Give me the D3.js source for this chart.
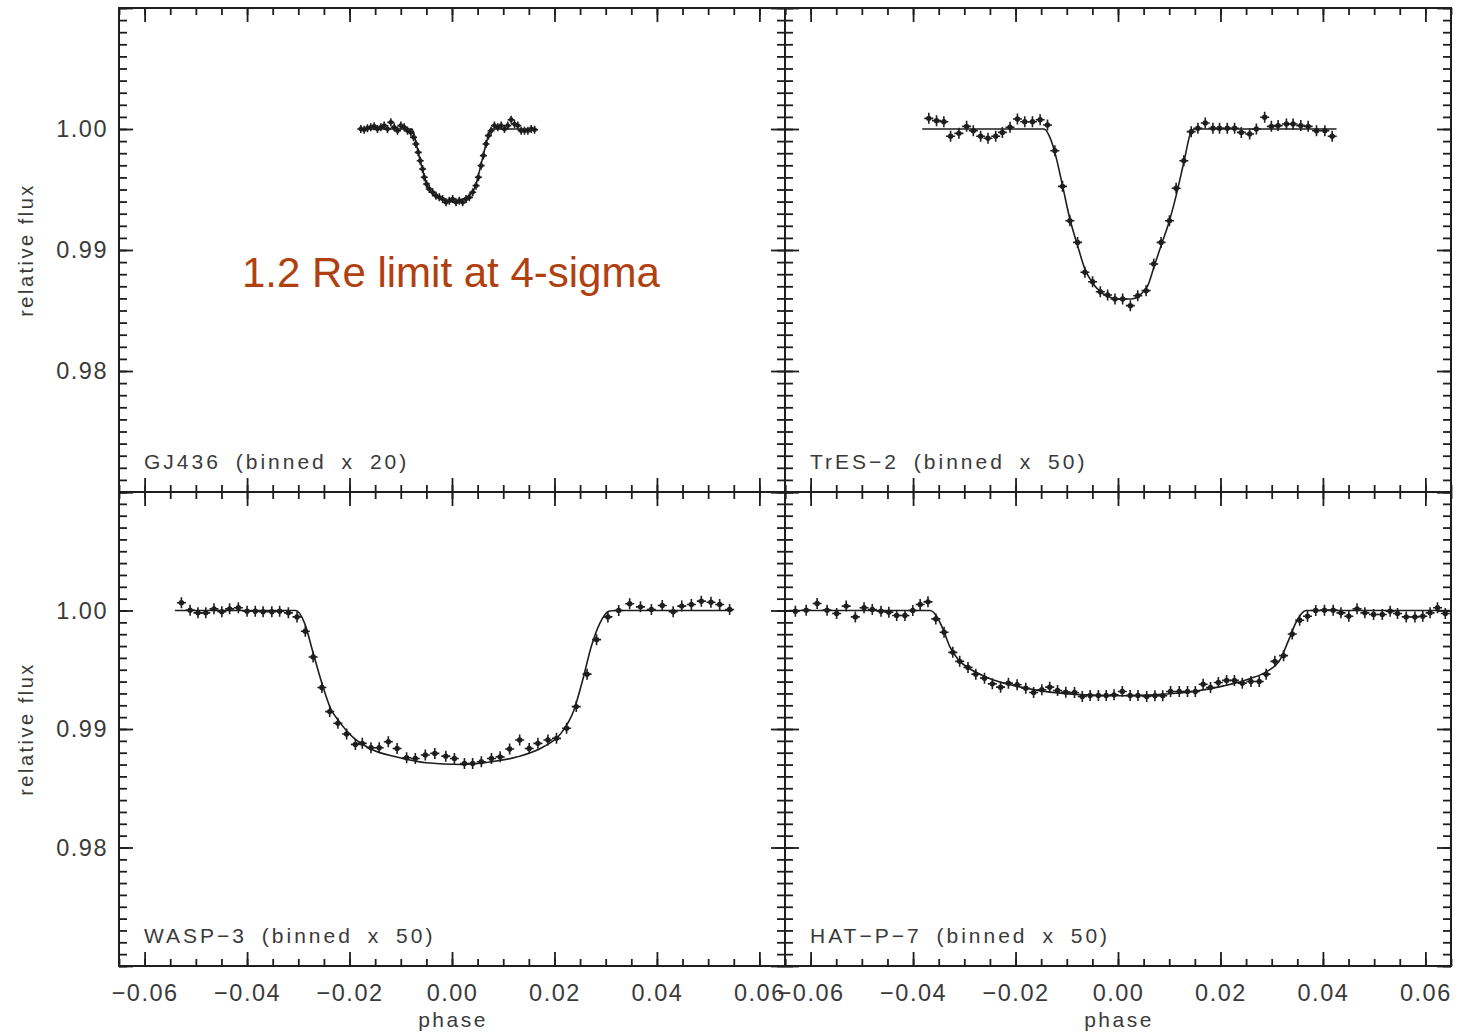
<!DOCTYPE html>
<html>
<head>
<meta charset="utf-8">
<script src="https://cdn.jsdelivr.net/npm/d3@7"></script>
<style>
  body { margin: 0; background: #fff; }
  svg { display: block; }
  text { font-family: "Liberation Sans", Arial, Helvetica, sans-serif; }
</style>
</head>
<body>
<div id="area"></div>
<script>
// tick values
const xMajor = [-0.06, -0.04, -0.02, 0.00, 0.02, 0.04, 0.06]
const yMajor = [0.97, 0.98, 0.99, 1.00, 1.01]
const yLabelled = [0.98, 0.99, 1.00]
const phaseDomain = [-0.065, 0.065]
const fluxDomain = [0.97, 1.01]

// GJ436 (binned x 20)
const gjPhase = [-0.0178, -0.01715, -0.0165, -0.01585, -0.0152, -0.01455, -0.01389, -0.01324, -0.01259, -0.01194,
    -0.01129, -0.01063, -0.00998, -0.00933, -0.00868, -0.00802, -0.0075, -0.00705, -0.00659, -0.0062,
    -0.00574, -0.00541, -0.00496, -0.00444, -0.00378, -0.00313, -0.00248, -0.00183, -0.00117, -0.00052,
    0.00013, 0.00078, 0.00143, 0.00209, 0.00274, 0.00339, 0.00404, 0.0047, 0.00515, 0.00568,
    0.00613, 0.00665, 0.00711, 0.00763, 0.00828, 0.00894, 0.00959, 0.01024, 0.01089, 0.01155,
    0.0122, 0.01285, 0.0135, 0.01415, 0.01481, 0.01546, 0.01611]
const gjFlux = [1.0, 0.99994, 1.00006, 1.00014, 1.00022, 1.0, 1.00014, 1.00028, 1.0, 1.00055,
    1.00014, 0.99986, 1.00028, 1.00014, 0.99986, 0.99972, 0.99931, 0.99876, 0.99807, 0.99738,
    0.99669, 0.99601, 0.99545, 0.99504, 0.99477, 0.99449, 0.99435, 0.99421, 0.99394, 0.99408,
    0.99421, 0.99394, 0.99408, 0.99394, 0.99421, 0.99435, 0.99477, 0.99532, 0.99601, 0.99697,
    0.9978, 0.99876, 0.99945, 0.99986, 1.00028, 1.00014, 1.00028, 1.0, 1.00028, 1.00077,
    1.00041, 1.00028, 0.99986, 0.99986, 0.99986, 1.0, 0.99994]
const gjModelPhase = [-0.0180, -0.0078, -0.0070, -0.0062, -0.0054, -0.0046, -0.0036, -0.0020, 0.0000,
    0.0020, 0.0036, 0.0046, 0.0054, 0.0062, 0.0070, 0.0078, 0.0165]
const gjModelFlux = [1, 1, 0.9988, 0.9974, 0.9961, 0.9951, 0.9946, 0.9942, 0.9940,
    0.9942, 0.9946, 0.9953, 0.9966, 0.9980, 0.9993, 1, 1]

// TrES-2 (binned x 50)
const tresPhase = [-0.03693, -0.03542, -0.03399, -0.03268, -0.03105, -0.02955, -0.02824, -0.02681, -0.02538, -0.02387,
    -0.02257, -0.02107, -0.01963, -0.0182, -0.0167, -0.0152, -0.01376, -0.01233, -0.01083, -0.00939,
    -0.00789, -0.00646, -0.00496, -0.00346, -0.00202, -0.00059, 0.00091, 0.00241, 0.00385, 0.00548,
    0.00698, 0.00841, 0.01004, 0.01135, 0.01285, 0.01429, 0.0156, 0.01703, 0.01853, 0.01982,
    0.02133, 0.02276, 0.02407, 0.0257, 0.02701, 0.02863, 0.02994, 0.03125, 0.03288, 0.03418,
    0.03568, 0.03712, 0.03875, 0.04038, 0.04181]
const tresFlux = [1.00088, 1.00069, 1.0006, 0.9994, 0.99964, 1.00022, 0.99986, 0.9994, 0.99923, 0.9994,
    0.99972, 1.00014, 1.00083, 1.0006, 1.0006, 1.00077, 1.00033, 0.9982, 0.99526, 0.99242,
    0.99063, 0.98816, 0.98738, 0.98655, 0.98628, 0.98595, 0.98595, 0.9854, 0.98622, 0.98664,
    0.98884, 0.99063, 0.99242, 0.9951, 0.99738, 0.99978, 1.00006, 1.0005, 1.00006, 1.00006,
    1.00006, 1.00006, 0.99972, 0.99959, 1.0, 1.00097, 1.00022, 1.00028, 1.00041, 1.00041,
    1.00028, 1.00022, 0.99986, 0.99986, 0.9994]
const tresModelPhase = [-0.03822, -0.01442, -0.01344, -0.01233, -0.01083, -0.00939, -0.00789, -0.00646, -0.00496,
    -0.00346, -0.00202, -0.00007, 0.00254, 0.0045, 0.00581, 0.0071, 0.00841, 0.01004, 0.01135,
    0.01285, 0.01429, 0.01494, 0.04266]
const tresModelFlux = [1.0, 1.0, 0.99945, 0.99807, 0.99532, 0.99256, 0.99036, 0.98843, 0.98727,
    0.98656, 0.98617, 0.98595, 0.98595, 0.98636, 0.98705, 0.98871, 0.99036, 0.99242, 0.99449,
    0.99725, 0.99978, 1.0, 1.0]

// WASP-3 (binned x 50)
const waspPhase = [-0.05282, -0.05112, -0.04959, -0.04806, -0.04646, -0.04493, -0.04341, -0.0417, -0.0400, -0.0384,
    -0.03687, -0.03517, -0.03364, -0.03194, -0.03025, -0.02863, -0.0271, -0.0254, -0.02387, -0.02227,
    -0.02057, -0.01886, -0.01751, -0.01581, -0.01421, -0.01243, -0.01072, -0.00886, -0.00716, -0.00521,
    -0.00335, -0.00121, 0.00047, 0.00243, 0.00403, 0.00573, 0.0077, 0.00939, 0.01125, 0.01321,
    0.01507, 0.01677, 0.01873, 0.0204, 0.02237, 0.02425, 0.02636, 0.02822, 0.03043, 0.03254,
    0.03468, 0.03679, 0.03892, 0.04104, 0.04317, 0.04485, 0.04673, 0.04867, 0.05055, 0.05225,
    0.05419]
const waspFlux = [1.00065, 1.00003, 0.9998, 0.9998, 1.00014, 0.99989, 1.00014, 1.00023, 0.99994, 0.99994,
    0.99989, 0.99989, 0.99994, 0.9998, 0.99946, 0.99825, 0.99607, 0.9935, 0.99147, 0.99048,
    0.98958, 0.9887, 0.98879, 0.98842, 0.98842, 0.98893, 0.98836, 0.98757, 0.98751, 0.9878,
    0.98794, 0.98771, 0.98751, 0.98709, 0.98709, 0.98723, 0.98751, 0.98765, 0.98831, 0.98907,
    0.98836, 0.98879, 0.98907, 0.98921, 0.99006, 0.99189, 0.99463, 0.99754, 0.99946, 1.0,
    1.00057, 1.00031, 1.00008, 1.00042, 0.99989, 1.00037, 1.00051, 1.00079, 1.0007, 1.00051,
    1.00008]
const waspModelPhase = [-0.05409, -0.03051, -0.0288, -0.0271, -0.0254, -0.02372, -0.02201, -0.01947, -0.01607,
    -0.01098, -0.00505, 0.00174, 0.0077, 0.01278, 0.01787, 0.02127, 0.02381, 0.02552, 0.0272,
    0.0289, 0.0306, 0.03188, 0.0548]
const waspModelFlux = [1.0, 1.0, 0.99896, 0.99641, 0.99387, 0.99175, 0.99062, 0.98935, 0.98836,
    0.98765, 0.98715, 0.98701, 0.98723, 0.98765, 0.9885, 0.98963, 0.99161, 0.99415, 0.99698,
    0.99896, 0.99994, 1.0, 1.0]

// HAT-P-7 (binned x 50)
const hatPhase = [-0.06298, -0.06086, -0.05873, -0.05679, -0.05492, -0.05305, -0.05127, -0.04957, -0.04796, -0.04626,
    -0.04473, -0.0432, -0.04159, -0.04006, -0.03862, -0.03709, -0.03556, -0.03395, -0.03225, -0.0309,
    -0.02928, -0.02775, -0.02606, -0.02453, -0.02292, -0.02139, -0.01969, -0.018, -0.01647, -0.01486,
    -0.01333, -0.0118, -0.01019, -0.00849, -0.00697, -0.00544, -0.00383, -0.0023, -0.00077, 0.00084,
    0.00237, 0.0039, 0.0056, 0.00721, 0.00873, 0.01026, 0.01196, 0.01357, 0.0151, 0.01662,
    0.01806, 0.01959, 0.0212, 0.02273, 0.02426, 0.02595, 0.02757, 0.02892, 0.03062, 0.03232,
    0.03401, 0.03546, 0.03699, 0.0386, 0.0403, 0.042, 0.04352, 0.04505, 0.04666, 0.04819,
    0.04989, 0.05159, 0.05312, 0.05456, 0.05626, 0.05796, 0.05949, 0.06092, 0.06237, 0.06389]
const hatFlux = [0.99994, 1.00003, 1.00059, 1.00003, 0.99975, 1.00037, 0.99946, 1.00023, 1.00008, 0.99994,
    0.99986, 0.99958, 0.99958, 1.0, 1.00051, 1.00073, 0.99929, 0.99816, 0.99647, 0.99571,
    0.9952, 0.99463, 0.99429, 0.99381, 0.99353, 0.99387, 0.99373, 0.99344, 0.99308, 0.99331,
    0.99353, 0.99325, 0.99311, 0.99308, 0.99274, 0.99283, 0.99283, 0.99283, 0.99288, 0.99316,
    0.99283, 0.99283, 0.99274, 0.9928, 0.9928, 0.99316, 0.99316, 0.99316, 0.99316, 0.99378,
    0.9935, 0.99393, 0.9941, 0.9941, 0.99387, 0.99401, 0.99401, 0.99463, 0.99571, 0.99619,
    0.99802, 0.99918, 0.99952, 1.0, 1.00003, 1.00003, 0.9998, 0.99952, 1.00014, 0.9998,
    0.99966, 0.99966, 0.99994, 0.99975, 0.99946, 0.99946, 0.99952, 0.9998, 1.00023, 0.99975]
const hatModelPhase = [-0.06425, -0.03667, -0.0354, -0.03413, -0.03286, -0.03115, -0.02861, -0.02521, -0.02098,
    -0.01503, -0.00654, 0.00024, 0.00703, 0.01467, 0.02061, 0.0257, 0.0291, 0.03164, 0.03335,
    0.03503, 0.03673, 0.06474]
const hatModelFlux = [1.0, 1.0, 0.99952, 0.99839, 0.99698, 0.99585, 0.995, 0.99429, 0.99373,
    0.99322, 0.99288, 0.9928, 0.99288, 0.99316, 0.99364, 0.99424, 0.99486, 0.99585, 0.99754,
    0.99924, 1.0, 1.0]

const width = 1460
const height = 1035

const panels = [
    {label: "GJ436 (binned x 20)", phase: gjPhase, flux: gjFlux, mPhase: gjModelPhase, mFlux: gjModelFlux,
        x0: 119, x1: 785, y0: 8, y1: 492, left: true, bottom: false, small: true},
    {label: "TrES\u22122 (binned x 50)", phase: tresPhase, flux: tresFlux, mPhase: tresModelPhase, mFlux: tresModelFlux,
        x0: 785, x1: 1451, y0: 8, y1: 492, left: false, bottom: false},
    {label: "WASP\u22123 (binned x 50)", phase: waspPhase, flux: waspFlux, mPhase: waspModelPhase, mFlux: waspModelFlux,
        x0: 119, x1: 785, y0: 492, y1: 966, left: true, bottom: true},
    {label: "HAT\u2212P\u22127 (binned x 50)", phase: hatPhase, flux: hatFlux, mPhase: hatModelPhase, mFlux: hatModelFlux,
        x0: 785, x1: 1451, y0: 492, y1: 966, left: false, bottom: true}
]

const ink = "#1e1e1e"
const labelColor = "#3a3a3a"
const fmt = d3.format(".2f")
const xMinor = d3.range(-0.065, 0.0651, 0.005)
const yMinor = d3.range(0.97, 1.0101, 0.001)

const svg = d3.select("#area").append("svg")
    .attr("width", width)
    .attr("height", height)

function styleAxis(sel) {
    sel.select(".domain").remove()
    sel.selectAll("line").attr("stroke", ink).attr("stroke-width", 1.8)
    sel.selectAll("text")
        .attr("fill", labelColor)
        .attr("font-size", 23.5)
        .attr("letter-spacing", "1.5px")
        .attr("font-family", "'Liberation Sans', Arial, sans-serif")
}

function drawPanel(p) {
    const x = d3.scaleLinear().domain(phaseDomain).range([p.x0, p.x1])
    const y = d3.scaleLinear().domain(fluxDomain).range([p.y1, p.y0])
    const g = svg.append("g")
    const none = () => ""

    // bottom + top
    g.append("g").attr("transform", `translate(0,${p.y1})`)
        .call(d3.axisBottom(x).tickValues(xMinor).tickSize(-7).tickFormat(none)).call(styleAxis)
    g.append("g").attr("transform", `translate(0,${p.y1})`)
        .call(d3.axisBottom(x).tickValues(xMajor).tickSize(-14).tickPadding(18)
            .tickFormat(p.bottom ? fmt : none)).call(styleAxis)
    g.append("g").attr("transform", `translate(0,${p.y0})`)
        .call(d3.axisTop(x).tickValues(xMinor).tickSize(-7).tickFormat(none)).call(styleAxis)
    g.append("g").attr("transform", `translate(0,${p.y0})`)
        .call(d3.axisTop(x).tickValues(xMajor).tickSize(-14).tickFormat(none)).call(styleAxis)

    // left + right
    g.append("g").attr("transform", `translate(${p.x0},0)`)
        .call(d3.axisLeft(y).tickValues(yMinor).tickSize(-8).tickFormat(none)).call(styleAxis)
    g.append("g").attr("transform", `translate(${p.x0},0)`)
        .call(d3.axisLeft(y).tickValues(yMajor).tickSize(-14).tickPadding(11)
            .tickFormat(d => p.left && yLabelled.some(v => Math.abs(v - d) < 1e-9) ? fmt(d) : "")).call(styleAxis)
    g.append("g").attr("transform", `translate(${p.x1},0)`)
        .call(d3.axisRight(y).tickValues(yMinor).tickSize(-8).tickFormat(none)).call(styleAxis)
    g.append("g").attr("transform", `translate(${p.x1},0)`)
        .call(d3.axisRight(y).tickValues(yMajor).tickSize(-14).tickFormat(none)).call(styleAxis)

    g.append("rect")
        .attr("x", p.x0).attr("y", p.y0)
        .attr("width", p.x1 - p.x0).attr("height", p.y1 - p.y0)
        .attr("fill", "none").attr("stroke", ink).attr("stroke-width", 2)

    // model curve
    const model = p.mPhase.map((v, i) => [v, p.mFlux[i]])
    g.append("path")
        .datum(model)
        .attr("fill", "none")
        .attr("stroke", ink)
        .attr("stroke-width", 1.6)
        .attr("d", d3.line().x(d => x(d[0])).y(d => y(d[1])).curve(d3.curveMonotoneX))

    // binned points: plus with a dot
    const pts = p.phase.map((v, i) => [v, p.flux[i]])
    const hw = p.small ? 3.5 : 4.5
    const hh = p.small ? 4 : 5.5
    const r = p.small ? 2.4 : 2.7
    const mark = g.append("g").selectAll("g")
        .data(pts)
        .join("g")
        .attr("transform", d => `translate(${x(d[0])},${y(d[1])})`)
    mark.append("path")
        .attr("d", `M${-hw},0H${hw}M0,${-hh}V${hh}`)
        .attr("stroke", ink)
        .attr("stroke-width", 1.6)
    mark.append("circle")
        .attr("r", r)
        .attr("fill", ink)

    g.append("text")
        .attr("x", p.x0 + 25)
        .attr("y", p.y1 - 23)
        .attr("fill", labelColor)
        .attr("font-size", 21)
        .attr("letter-spacing", "3px")
        .attr("word-spacing", "6px")
        .text(p.label)

    const mid = (p.x0 + p.x1) / 2
    if (p.bottom) {
        g.append("text")
            .attr("x", mid + 1)
            .attr("y", 1027)
            .attr("text-anchor", "middle")
            .attr("fill", labelColor)
            .attr("font-size", 21)
            .attr("letter-spacing", "2.5px")
            .text("phase")
    }
    if (p.left) {
        g.append("text")
            .attr("transform", `translate(33,${(p.y0 + p.y1) / 2}) rotate(-90)`)
            .attr("text-anchor", "middle")
            .attr("fill", labelColor)
            .attr("font-size", 20)
            .attr("letter-spacing", "2.5px")
            .text("relative flux")
    }
}

panels.forEach(drawPanel)

svg.append("text")
    .attr("x", 242)
    .attr("y", 287)
    .attr("fill", "#b0400f")
    .attr("font-size", 42)
    .text("1.2 Re limit at 4-sigma")
</script>
</body>
</html>
